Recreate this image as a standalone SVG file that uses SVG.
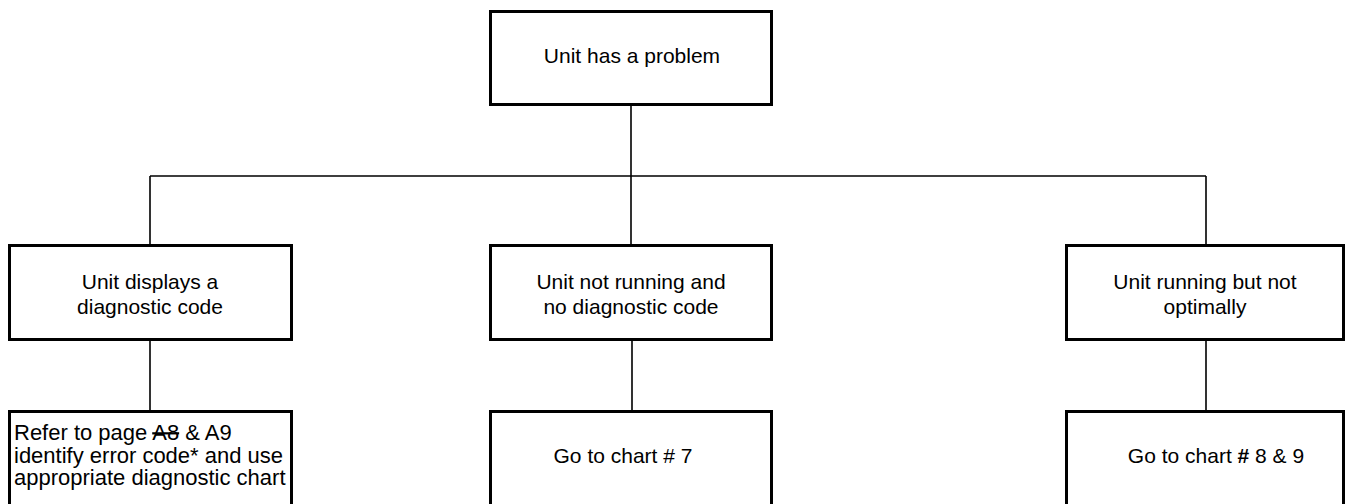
<svg xmlns="http://www.w3.org/2000/svg" width="1346" height="504" viewBox="0 0 1346 504">
<style>
.box{fill:#fff;stroke:#000;stroke-width:3}
.t{font-family:"Liberation Sans",Arial,sans-serif;font-size:21px;fill:#000}
.s{font-size:22px}
.c{text-anchor:middle}
.con{stroke:#000;stroke-width:1.6;fill:none}
</style>
<rect width="1346" height="504" fill="#fff"/>
<g id="connectors">
<path class="con" d="M631 106V176M150 176H1206M150 176V245M631 176V245M1206 176V245M150 341V410M632 341V410M1206 341V410"/>
</g>
<g id="n-top">
<rect class="box" x="490.5" y="11.5" width="281" height="93"/>
<text class="t c" x="632" y="63">Unit has a problem</text>
</g>
<g id="n-diag">
<rect class="box" x="9.5" y="245.5" width="282" height="94"/>
<text class="t c" x="150" y="289">Unit displays a</text>
<text class="t c" x="150" y="314">diagnostic code</text>
</g>
<g id="n-notrun">
<rect class="box" x="490.5" y="245.5" width="281" height="94"/>
<text class="t c" x="631" y="289">Unit not running and</text>
<text class="t c" x="631" y="314">no diagnostic code</text>
</g>
<g id="n-notopt">
<rect class="box" x="1066.5" y="245.5" width="277" height="94"/>
<text class="t c" x="1205" y="289">Unit running but not</text>
<text class="t c" x="1205" y="314">optimally</text>
</g>
<g id="n-refer">
<rect class="box" x="9.5" y="411.5" width="282" height="100"/>
<text class="t s" x="14" y="440">Refer to page <tspan text-decoration="line-through">A8</tspan> &amp; A9</text>
<text class="t s" x="14" y="462.5">identify error code* and use</text>
<text class="t s" x="14" y="485">appropriate diagnostic chart</text>
</g>
<g id="n-chart7">
<rect class="box" x="490.5" y="411.5" width="281" height="100"/>
<text class="t c" x="623" y="463">Go to chart # 7</text>
</g>
<g id="n-chart89">
<rect class="box" x="1066.5" y="411.5" width="277" height="100"/>
<text class="t c" x="1216" y="463">Go to chart <tspan font-weight="bold">#</tspan> 8 &amp; 9</text>
</g>
</svg>
